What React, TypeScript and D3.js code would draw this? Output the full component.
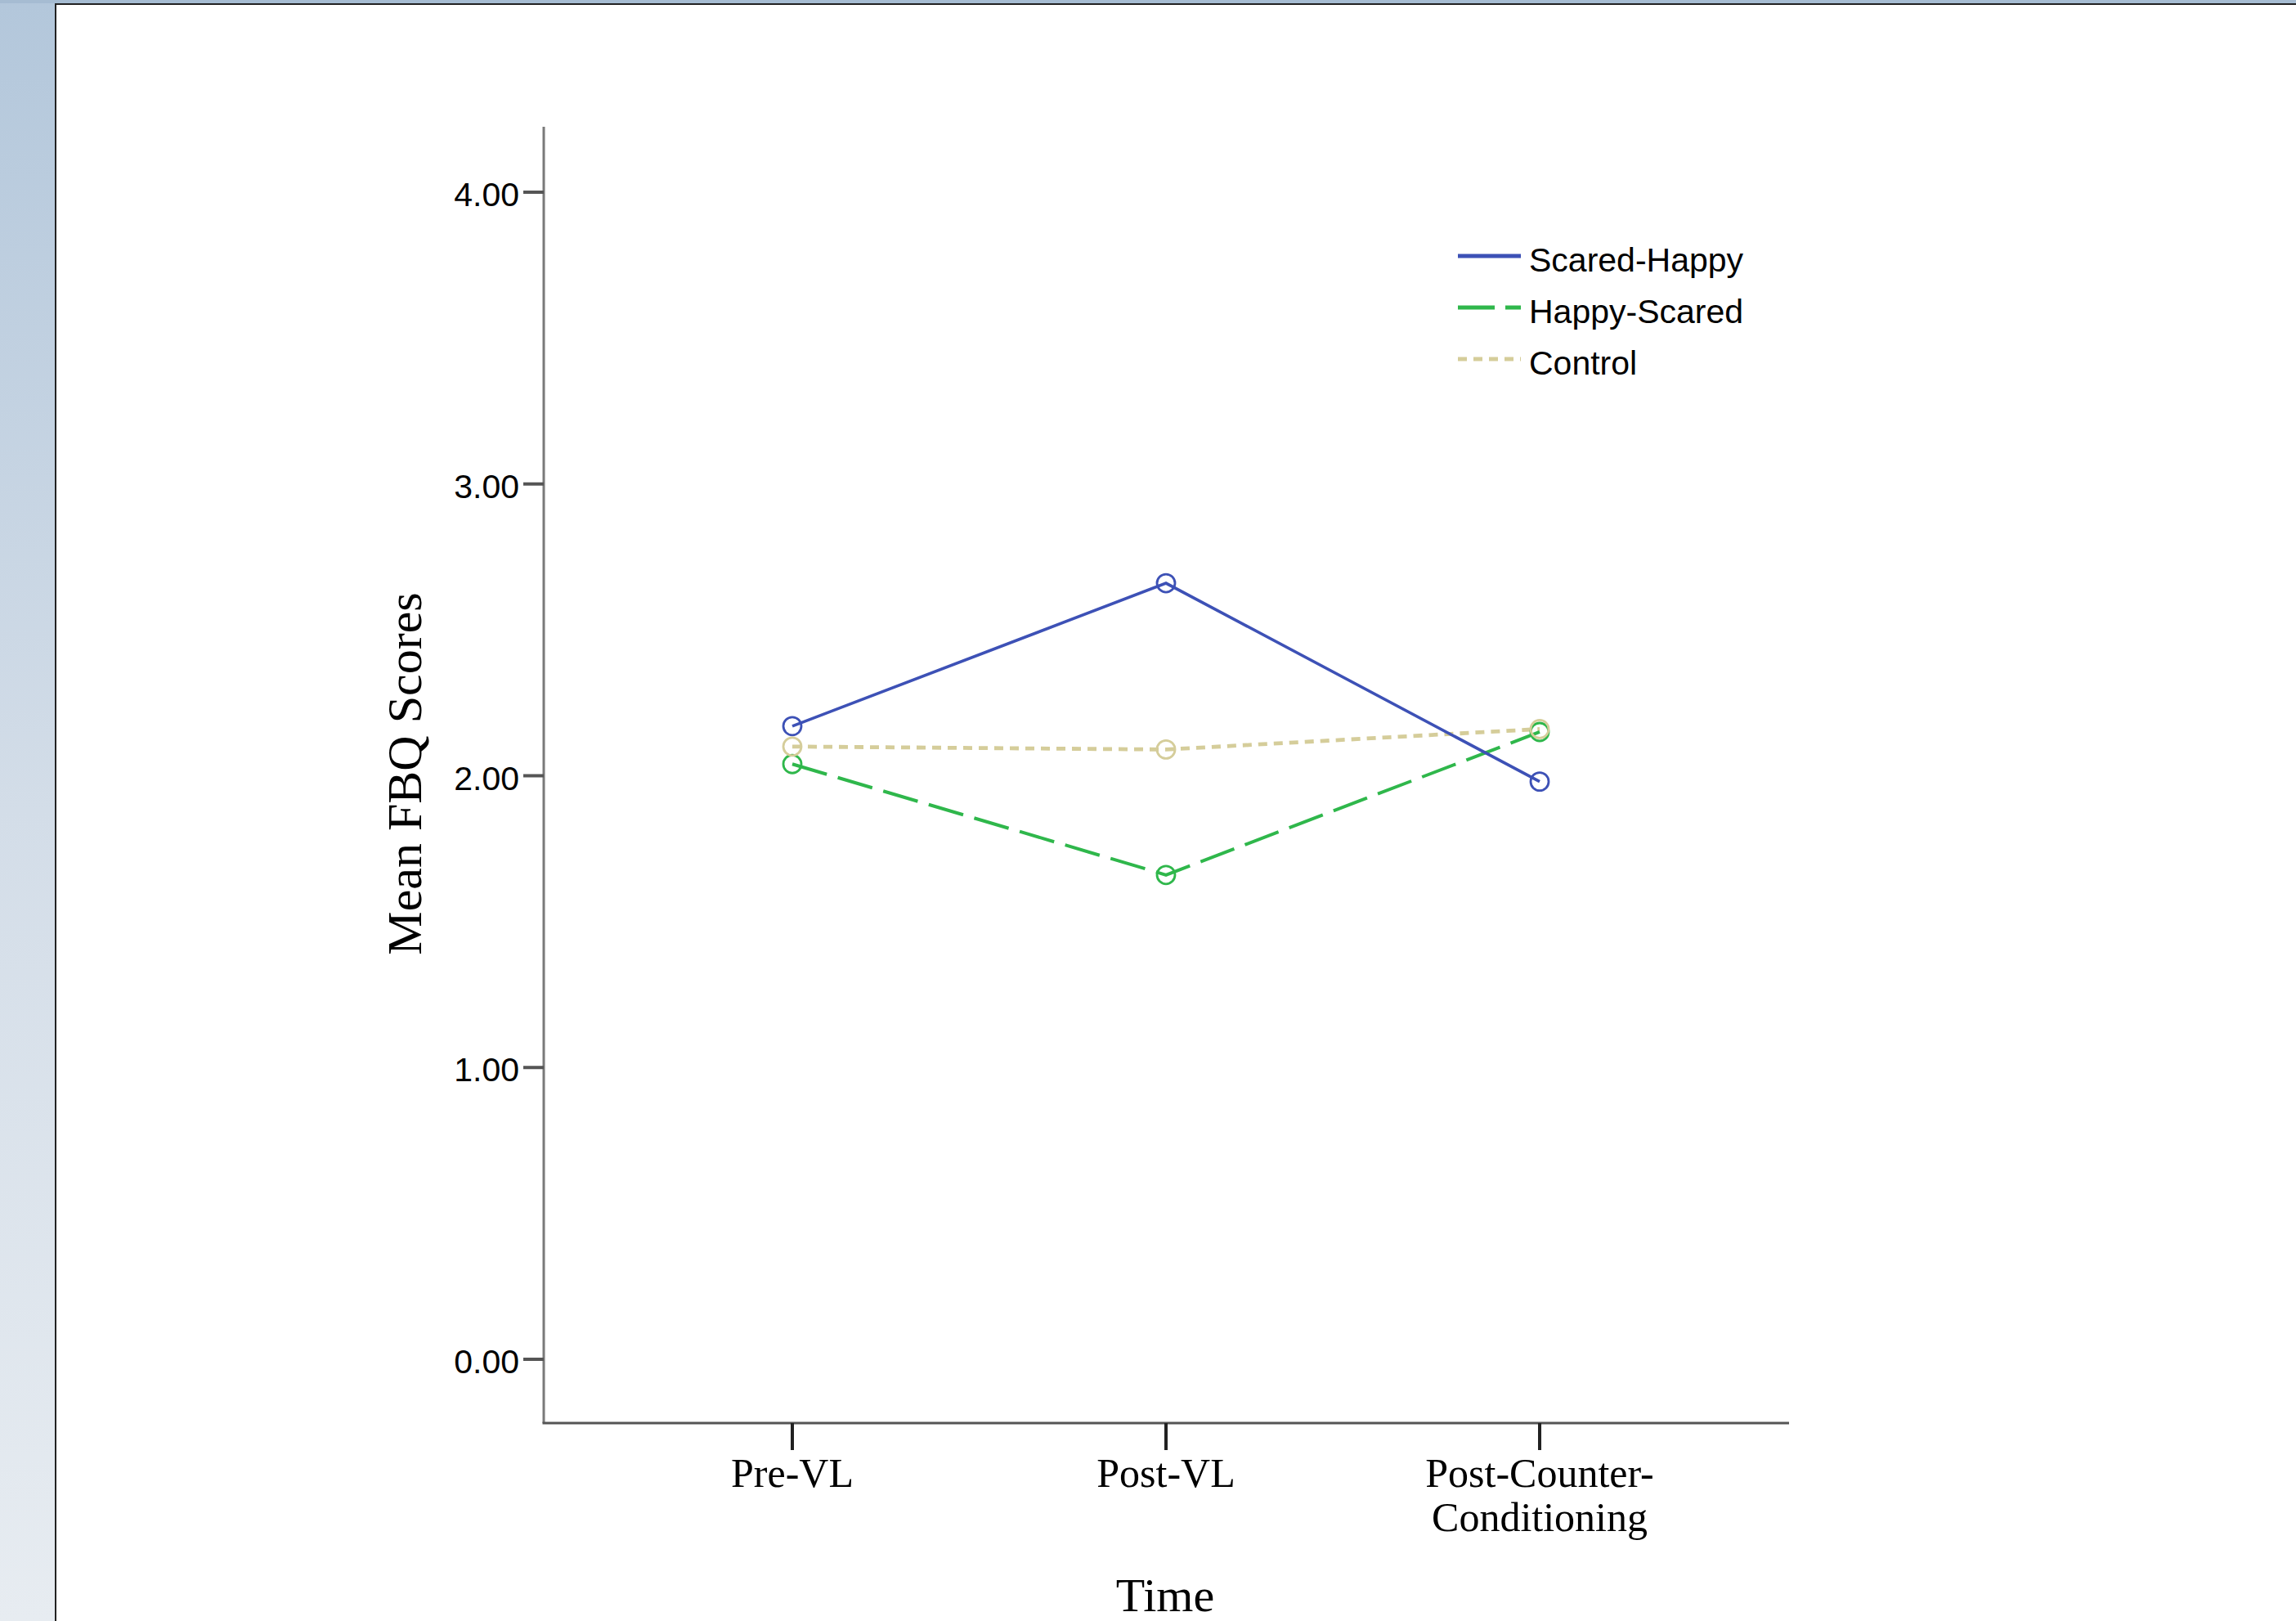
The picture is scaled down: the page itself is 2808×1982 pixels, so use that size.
import React from "react";
import * as d3 from "d3";

const categories = ["Pre-VL", "Post-VL", "Post-Counter-Conditioning"];
const categoryLines = [["Pre-VL"], ["Post-VL"], ["Post-Counter-", "Conditioning"]];
const scaredHappy = [2.17, 2.66, 1.98];
const happyScared = [2.04, 1.66, 2.15];
const control = [2.1, 2.09, 2.16];
const yTicks = [0, 1, 2, 3, 4];
const seriesNames = ["Scared-Happy", "Happy-Scared", "Control"];

const W = 2808;
const H = 1982;

export default function App() {
  const y = d3.scaleLinear().domain([0, 4]).range([1662, 235]);
  const x = d3.scalePoint<string>().domain(categories).range([969, 1883]);
  const axisX = 665;
  const axisBottom = 1740;
  const axisTop = 155;
  const axisRight = 2188;

  const series = [
    { name: seriesNames[0], values: scaredHappy, color: "#3d51b6", dash: "none", width: 3.6 },
    { name: seriesNames[1], values: happyScared, color: "#2fb74b", dash: "44,14", width: 4 },
    { name: seriesNames[2], values: control, color: "#d5cd9a", dash: "11,8", width: 4.8 },
  ];

  const line = d3
    .line<number>()
    .x((_, i) => x(categories[i]) as number)
    .y((v) => y(v));

  const sans = "'Liberation Sans', Arial, sans-serif";
  const serif = "'Liberation Serif', 'Times New Roman', serif";

  return (
    <svg
      width={W}
      height={H}
      style={{ position: "absolute", left: 0, top: 0, display: "block", background: "#fff" }}
    >
      <defs>
        <linearGradient id="side" x1="0" y1="0" x2="0" y2="1">
          <stop offset="0" stopColor="#b3c7db" />
          <stop offset="0.5" stopColor="#d3dde8" />
          <stop offset="1" stopColor="#e7ecf1" />
        </linearGradient>
      </defs>
      <rect x={0} y={0} width={W} height={H} fill="#ffffff" />
      <rect x={0} y={0} width={68} height={H} fill="url(#side)" />
      <rect x={0} y={0} width={W} height={4} fill="#a6bcd2" />
      <rect x={67} y={4} width={W - 67} height={2} fill="#222" />
      <rect x={67} y={4} width={2} height={H} fill="#222" />

      {/* axes */}
      <line x1={axisX} y1={axisTop} x2={axisX} y2={axisBottom} stroke="#7a7a7a" strokeWidth={3} />
      <line x1={axisX - 1.5} y1={axisBottom} x2={axisRight} y2={axisBottom} stroke="#555" strokeWidth={3} />

      {yTicks.map((t) => (
        <g key={t}>
          <line x1={axisX - 25} x2={axisX} y1={y(t)} y2={y(t)} stroke="#555" strokeWidth={4} />
          <text
            x={axisX - 30}
            y={y(t)}
            dy="0.42em"
            textAnchor="end"
            fontFamily={sans}
            fontSize={41}
            fill="#000"
          >
            {t.toFixed(2)}
          </text>
        </g>
      ))}

      {categories.map((c, i) => (
        <g key={c}>
          <line
            x1={x(c)}
            x2={x(c)}
            y1={axisBottom}
            y2={axisBottom + 33}
            stroke="#222"
            strokeWidth={4}
          />
          {categoryLines[i].map((ln, j) => (
            <text
              key={j}
              x={x(c)}
              y={1818 + j * 54}
              textAnchor="middle"
              fontFamily={serif}
              fontSize={50}
              fill="#000"
            >
              {ln}
            </text>
          ))}
        </g>
      ))}

      <text x={1425} y={1970} textAnchor="middle" fontFamily={serif} fontSize={58} fill="#000">
        Time
      </text>
      <text
        transform={`translate(515, 946) rotate(-90)`}
        textAnchor="middle"
        fontFamily={serif}
        fontSize={60}
        fill="#000"
      >
        Mean FBQ Scores
      </text>

      {/* lines */}
      {series
        .slice()
        .reverse()
        .map((s) => (
          <g key={s.name}>
            <path
              d={line(s.values) as string}
              fill="none"
              stroke={s.color}
              strokeWidth={s.width}
              strokeDasharray={s.dash}
            />
          </g>
        ))}
      {series.map((s) => (
        <g key={s.name + "m"}>
          {s.values.map((v, i) => (
            <circle
              key={i}
              cx={x(categories[i])}
              cy={y(v)}
              r={11}
              fill="none"
              stroke={s.color}
              strokeWidth={2.8}
            />
          ))}
        </g>
      ))}

      {/* legend */}
      {series.map((s, i) => (
        <g key={s.name + "l"} transform={`translate(1783, ${313 + i * 63})`}>
          <line
            x1={0}
            x2={77}
            y1={0}
            y2={0}
            stroke={s.color}
            strokeWidth={5}
            strokeDasharray={i === 1 ? "45,13" : i === 2 ? "11,8" : "none"}
          />
          <text x={87} y={19} fontFamily={sans} fontSize={41} fill="#000">
            {s.name}
          </text>
        </g>
      ))}
    </svg>
  );
}
